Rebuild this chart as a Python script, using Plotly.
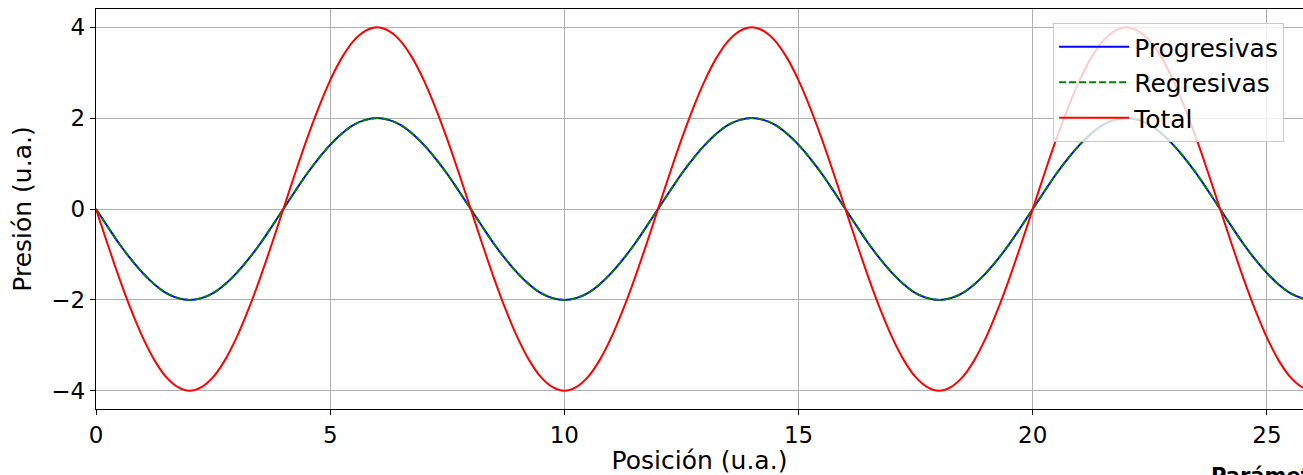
import plotly.graph_objects as go

posicion = [0, 0.25, 0.5, 0.75, 1, 1.25, 1.5, 1.75, 2, 2.25, 2.5, 2.75, 3, 3.25, 3.5, 3.75,
            4, 4.25, 4.5, 4.75, 5, 5.25, 5.5, 5.75, 6, 6.25, 6.5, 6.75, 7, 7.25, 7.5, 7.75,
            8, 8.25, 8.5, 8.75, 9, 9.25, 9.5, 9.75, 10, 10.25, 10.5, 10.75, 11, 11.25, 11.5, 11.75,
            12, 12.25, 12.5, 12.75, 13, 13.25, 13.5, 13.75, 14, 14.25, 14.5, 14.75, 15, 15.25, 15.5, 15.75,
            16, 16.25, 16.5, 16.75, 17, 17.25, 17.5, 17.75, 18, 18.25, 18.5, 18.75, 19, 19.25, 19.5, 19.75,
            20, 20.25, 20.5, 20.75, 21, 21.25, 21.5, 21.75, 22, 22.25, 22.5, 22.75, 23, 23.25, 23.5, 23.75,
            24, 24.25, 24.5, 24.75, 25, 25.25, 25.5, 25.75, 26]

progresivas = [0, -0.39, -0.77, -1.11, -1.41, -1.66, -1.85, -1.96, -2, -1.96, -1.85, -1.66, -1.41, -1.11, -0.77, -0.39,
               0, 0.39, 0.77, 1.11, 1.41, 1.66, 1.85, 1.96, 2, 1.96, 1.85, 1.66, 1.41, 1.11, 0.77, 0.39,
               0, -0.39, -0.77, -1.11, -1.41, -1.66, -1.85, -1.96, -2, -1.96, -1.85, -1.66, -1.41, -1.11, -0.77, -0.39,
               0, 0.39, 0.77, 1.11, 1.41, 1.66, 1.85, 1.96, 2, 1.96, 1.85, 1.66, 1.41, 1.11, 0.77, 0.39,
               0, -0.39, -0.77, -1.11, -1.41, -1.66, -1.85, -1.96, -2, -1.96, -1.85, -1.66, -1.41, -1.11, -0.77, -0.39,
               0, 0.39, 0.77, 1.11, 1.41, 1.66, 1.85, 1.96, 2, 1.96, 1.85, 1.66, 1.41, 1.11, 0.77, 0.39,
               0, -0.39, -0.77, -1.11, -1.41, -1.66, -1.85, -1.96, -2]

regresivas = [0, -0.39, -0.77, -1.11, -1.41, -1.66, -1.85, -1.96, -2, -1.96, -1.85, -1.66, -1.41, -1.11, -0.77, -0.39,
              0, 0.39, 0.77, 1.11, 1.41, 1.66, 1.85, 1.96, 2, 1.96, 1.85, 1.66, 1.41, 1.11, 0.77, 0.39,
              0, -0.39, -0.77, -1.11, -1.41, -1.66, -1.85, -1.96, -2, -1.96, -1.85, -1.66, -1.41, -1.11, -0.77, -0.39,
              0, 0.39, 0.77, 1.11, 1.41, 1.66, 1.85, 1.96, 2, 1.96, 1.85, 1.66, 1.41, 1.11, 0.77, 0.39,
              0, -0.39, -0.77, -1.11, -1.41, -1.66, -1.85, -1.96, -2, -1.96, -1.85, -1.66, -1.41, -1.11, -0.77, -0.39,
              0, 0.39, 0.77, 1.11, 1.41, 1.66, 1.85, 1.96, 2, 1.96, 1.85, 1.66, 1.41, 1.11, 0.77, 0.39,
              0, -0.39, -0.77, -1.11, -1.41, -1.66, -1.85, -1.96, -2]

total = [0, -0.78, -1.53, -2.22, -2.83, -3.33, -3.70, -3.92, -4, -3.92, -3.70, -3.33, -2.83, -2.22, -1.53, -0.78,
         0, 0.78, 1.53, 2.22, 2.83, 3.33, 3.70, 3.92, 4, 3.92, 3.70, 3.33, 2.83, 2.22, 1.53, 0.78,
         0, -0.78, -1.53, -2.22, -2.83, -3.33, -3.70, -3.92, -4, -3.92, -3.70, -3.33, -2.83, -2.22, -1.53, -0.78,
         0, 0.78, 1.53, 2.22, 2.83, 3.33, 3.70, 3.92, 4, 3.92, 3.70, 3.33, 2.83, 2.22, 1.53, 0.78,
         0, -0.78, -1.53, -2.22, -2.83, -3.33, -3.70, -3.92, -4, -3.92, -3.70, -3.33, -2.83, -2.22, -1.53, -0.78,
         0, 0.78, 1.53, 2.22, 2.83, 3.33, 3.70, 3.92, 4, 3.92, 3.70, 3.33, 2.83, 2.22, 1.53, 0.78,
         0, -0.78, -1.53, -2.22, -2.83, -3.33, -3.70, -3.92, -4]

x_ticks = [0, 5, 10, 15, 20, 25]
y_ticks = [-4, -2, 0, 2, 4]
y_tick_labels = ["−4", "−2", "0", "2", "4"]

FONT = "DejaVu Sans"

fig = go.Figure()
fig.add_trace(go.Scatter(x=posicion, y=progresivas, mode="lines", name="Progresivas",
                         line=dict(color="#0000ff", width=2, shape="spline")))
fig.add_trace(go.Scatter(x=posicion, y=regresivas, mode="lines", name="Regresivas",
                         line=dict(color="#008000", width=2, dash="7px,3px", shape="spline")))
fig.add_trace(go.Scatter(x=posicion, y=total, mode="lines", name="Total",
                         line=dict(color="#ff0000", width=2, shape="spline")))

axis_common = dict(
    showgrid=True, gridcolor="#b0b0b0", gridwidth=1,
    showline=True, linecolor="black", linewidth=1.3, mirror=True,
    ticks="outside", ticklen=5, tickcolor="black", tickwidth=1.2,
    zeroline=False,
    tickfont=dict(family=FONT, size=23, color="black"),
)

fig.update_layout(
    width=1303, height=475,
    margin=dict(l=96, r=0, t=9, b=66),
    paper_bgcolor="white", plot_bgcolor="white",
    font=dict(family=FONT, size=24, color="black"),
    xaxis=dict(range=[0, 25.77], tickvals=x_ticks,
               title=dict(text="Posición (u.a.)", font=dict(family=FONT, size=25), standoff=4),
               **axis_common),
    yaxis=dict(range=[-4.4, 4.4], tickvals=y_ticks, ticktext=y_tick_labels,
               title=dict(text="Presión (u.a.)", font=dict(family=FONT, size=25), standoff=12),
               **axis_common),
    legend=dict(x=0.793, y=0.965, xanchor="left", yanchor="top",
                bgcolor="rgba(255,255,255,0.8)", bordercolor="#cccccc", borderwidth=1,
                font=dict(family=FONT, size=25), tracegroupgap=0, itemwidth=70),
    showlegend=True,
)

fig.add_annotation(text="<b>Parámetros</b>", xref="paper", yref="paper",
                   x=0.922, y=-0.132, xanchor="left", yanchor="top", showarrow=False,
                   font=dict(family=FONT, size=21, color="black"))

fig.write_html("out.html",
               config={"displayModeBar": False},
               post_script="document.body.style.margin='0';document.body.style.overflow='hidden';")
